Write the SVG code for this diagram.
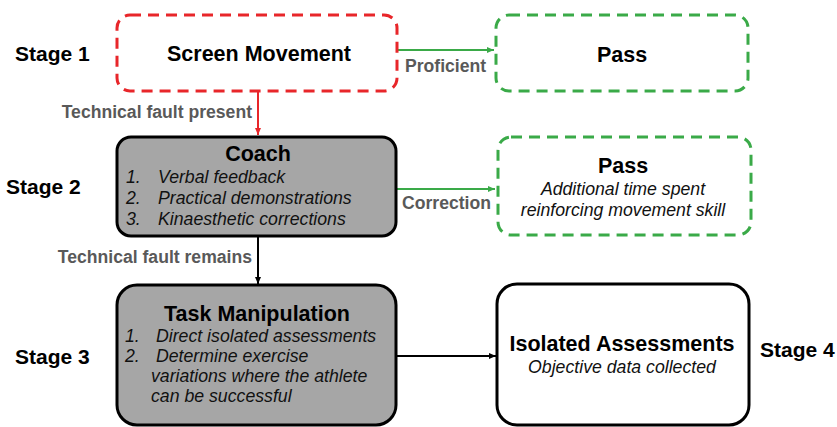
<svg xmlns="http://www.w3.org/2000/svg" width="837" height="427" viewBox="0 0 837 427">
<defs>
<style>
.stage{font-family:"Liberation Sans",Arial,sans-serif;font-weight:bold;font-size:21px;fill:#000}
.title{font-family:"Liberation Sans",Arial,sans-serif;font-weight:bold;font-size:21.5px;fill:#000;text-anchor:middle}
.it{font-family:"Liberation Sans",Arial,sans-serif;font-style:italic;font-size:17.7px;fill:#111}
.lbl{font-family:"Liberation Sans",Arial,sans-serif;font-weight:bold;font-size:17.6px;fill:#595959}
.red{fill:#fff;stroke:#e8262a;stroke-width:3;stroke-dasharray:11 7}
.grn{fill:#fff;stroke:#3aaa48;stroke-width:3;stroke-dasharray:11 7}
.gray{fill:#a6a6a6;stroke:#000;stroke-width:3}
.solid{fill:#fff;stroke:#000;stroke-width:3}
</style>
<marker id="ar" markerWidth="8" markerHeight="8" refX="7" refY="4" orient="auto" markerUnits="userSpaceOnUse"><path d="M0,1 L7,4 L0,7 z" fill="#e8262a"/></marker>
<marker id="ag" markerWidth="8" markerHeight="8" refX="7" refY="4" orient="auto" markerUnits="userSpaceOnUse"><path d="M0,1 L7,4 L0,7 z" fill="#3aaa48"/></marker>
<marker id="ak" markerWidth="8" markerHeight="8" refX="7" refY="4" orient="auto" markerUnits="userSpaceOnUse"><path d="M0,1 L7,4 L0,7 z" fill="#000"/></marker>
</defs>
<rect width="837" height="427" fill="#fff"/>

<g id="stages">
<text class="stage" x="15" y="61">Stage 1</text>
<text class="stage" x="6" y="194">Stage 2</text>
<text class="stage" x="15" y="364">Stage 3</text>
<text class="stage" x="760" y="357">Stage 4</text>
</g>

<g id="connectors">
<line x1="397" y1="50" x2="494" y2="50" stroke="#3aaa48" stroke-width="2" marker-end="url(#ag)"/>
<text class="lbl" x="405" y="72">Proficient</text>
<line x1="258" y1="92" x2="258" y2="135" stroke="#e8262a" stroke-width="2" marker-end="url(#ar)"/>
<text class="lbl" x="252" y="118" text-anchor="end">Technical fault present</text>
<line x1="396" y1="189" x2="495" y2="189" stroke="#3aaa48" stroke-width="2" marker-end="url(#ag)"/>
<text class="lbl" x="402" y="209">Correction</text>
<line x1="258" y1="237" x2="258" y2="284" stroke="#000" stroke-width="2" marker-end="url(#ak)"/>
<text class="lbl" x="252" y="263" text-anchor="end">Technical fault remains</text>
<line x1="396" y1="356" x2="496" y2="356" stroke="#000" stroke-width="2" marker-end="url(#ak)"/>
</g>

<g id="screen">
<rect class="red" x="117" y="15" width="280" height="76" rx="13"/>
<text class="title" x="259" y="61">Screen Movement</text>
</g>

<g id="pass1">
<rect class="grn" x="496" y="15" width="252" height="76" rx="13"/>
<text class="title" x="622" y="62">Pass</text>
</g>

<g id="coach">
<rect class="gray" x="117" y="137" width="279" height="99" rx="14"/>
<text class="title" x="258" y="161">Coach</text>
<text class="it" x="126" y="183">1.</text><text class="it" x="158" y="183">Verbal feedback</text>
<text class="it" x="126" y="204">2.</text><text class="it" x="158" y="204">Practical demonstrations</text>
<text class="it" x="126" y="225">3.</text><text class="it" x="158" y="225">Kinaesthetic corrections</text>
</g>

<g id="pass2">
<rect class="grn" x="498" y="137" width="253" height="98" rx="13"/>
<text class="title" x="623" y="173">Pass</text>
<text class="it" x="623" y="195" text-anchor="middle">Additional time spent</text>
<text class="it" x="623" y="216" text-anchor="middle">reinforcing movement skill</text>
</g>

<g id="task">
<rect class="gray" x="117" y="285" width="279" height="140" rx="20"/>
<text class="title" x="257" y="321">Task Manipulation</text>
<text class="it" x="125" y="342">1.</text><text class="it" x="156" y="342">Direct isolated assessments</text>
<text class="it" x="125" y="362">2.</text><text class="it" x="156" y="362">Determine exercise</text>
<text class="it" x="151" y="382">variations where the athlete</text>
<text class="it" x="151" y="402">can be successful</text>
</g>

<g id="isolated">
<rect class="solid" x="497" y="284" width="252" height="141" rx="20"/>
<text class="title" x="622" y="351">Isolated Assessments</text>
<text class="it" x="622" y="373" text-anchor="middle">Objective data collected</text>
</g>
</svg>
